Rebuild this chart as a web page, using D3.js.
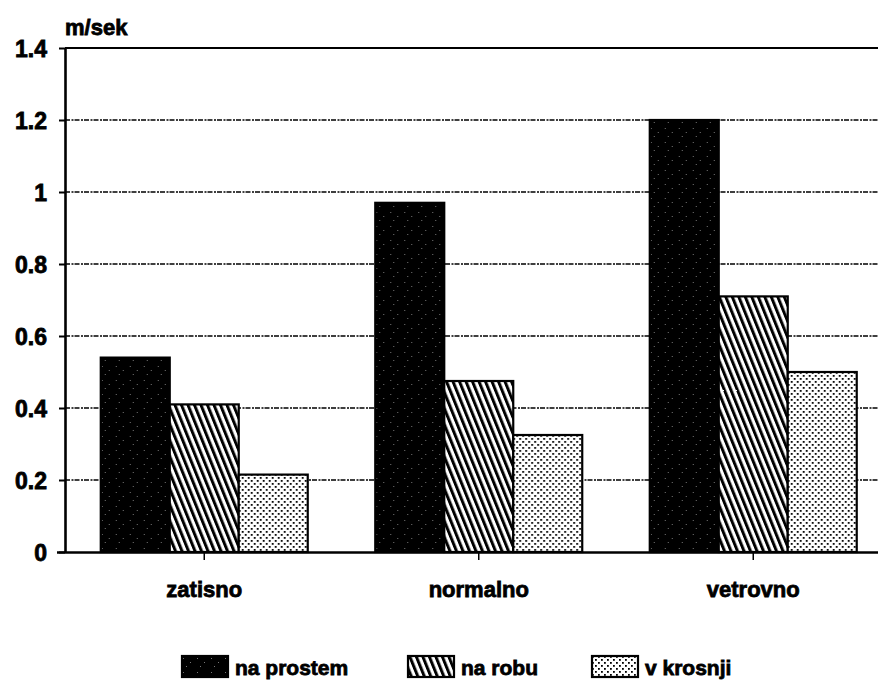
<!DOCTYPE html>
<html>
<head>
<meta charset="utf-8">
<script src="https://cdn.jsdelivr.net/npm/d3@7"></script>
<style>
  body { margin: 0; background: #fff; }
  svg { display: block; }
  text { font-family: "Liberation Sans", Arial, sans-serif; font-weight: bold; fill: #000; stroke: #000; stroke-width: 0.8px; }
</style>
</head>
<body>
<svg id="chart" width="881" height="691"></svg>
<script>
// ---- data ----
const categories = ["zatisno", "normalno", "vetrovno"];
const seriesNames = ["na prostem", "na robu", "v krosnji"];
const naProstem = [0.54, 0.97, 1.2];
const naRobu = [0.41, 0.475, 0.71];
const vKrosnji = [0.215, 0.325, 0.5];
const yTicks = [0, 0.2, 0.4, 0.6, 0.8, 1, 1.2, 1.4];
const yTickLabels = ["0", "0.2", "0.4", "0.6", "0.8", "1", "1.2", "1.4"];
const unitLabel = "m/sek";

const seriesValues = [naProstem, naRobu, vKrosnji];
const patternIds = ["pDark", "pHatch", "pDots"];

const svg = d3.select("#chart");
const defs = svg.append("defs");

// dark stipple pattern
const pd = defs.append("pattern").attr("id", "pDark").attr("patternUnits", "userSpaceOnUse")
  .attr("width", 14).attr("height", 14);
pd.append("rect").attr("width", 14).attr("height", 14).attr("fill", "#000");
[[1,2],[8,6],[4,10]].forEach(([x,y]) =>
  pd.append("rect").attr("x", x).attr("y", y).attr("width", 1).attr("height", 1).attr("fill", "#777"));

// hatch pattern (steep backslash lines)
const ph = defs.append("pattern").attr("id", "pHatch").attr("patternUnits", "userSpaceOnUse")
  .attr("width", 6.5).attr("height", 16).attr("patternTransform", "skewX(22)");
ph.append("rect").attr("width", 6.5).attr("height", 16).attr("fill", "#fff");
ph.append("rect").attr("x", 0).attr("width", 3.2).attr("height", 16).attr("fill", "#000");

// dots pattern
const pt = defs.append("pattern").attr("id", "pDots").attr("patternUnits", "userSpaceOnUse")
  .attr("width", 6).attr("height", 6);
pt.append("rect").attr("width", 6).attr("height", 6).attr("fill", "#fff");
pt.append("rect").attr("x", 0).attr("y", 0).attr("width", 1.8).attr("height", 1.8).attr("fill", "#000");
pt.append("rect").attr("x", 3).attr("y", 3).attr("width", 1.8).attr("height", 1.8).attr("fill", "#000");

// ---- scales ----
const axisX = 65, plotRight = 878, plotTop = 48, plotBottom = 552;
const x0 = d3.scaleBand().domain(categories).range([67, 890.5]).paddingInner(0.246).paddingOuter(0.123);
const x1 = d3.scaleBand().domain(seriesNames).range([0, x0.bandwidth()]).padding(0);
const y = d3.scaleLinear().domain([0, 1.4]).range([plotBottom, plotTop]);

// gridlines
svg.append("g").selectAll("line").data(yTicks.filter(t => t > 0 && t < 1.4)).join("line")
  .attr("x1", axisX).attr("x2", plotRight)
  .attr("y1", d => y(d)).attr("y2", d => y(d))
  .attr("stroke", "#000").attr("stroke-width", 1.3).attr("stroke-dasharray", "5,1.5,2,1");

// top frame line
svg.append("line").attr("x1", axisX).attr("x2", plotRight).attr("y1", y(1.4)).attr("y2", y(1.4))
  .attr("stroke", "#000").attr("stroke-width", 2);

// bars
const groups = svg.append("g").selectAll("g").data(categories).join("g")
  .attr("transform", d => `translate(${x0(d)},0)`);
groups.selectAll("rect").data((c, ci) => seriesNames.map((s, si) => ({ s, si, v: seriesValues[si][ci] })))
  .join("rect")
  .attr("x", d => x1(d.s))
  .attr("width", x1.bandwidth())
  .attr("y", d => y(d.v))
  .attr("height", d => y(0) - y(d.v))
  .attr("fill", d => `url(#${patternIds[d.si]})`)
  .attr("stroke", "#000").attr("stroke-width", 2.2);

// y axis
const yAxis = d3.axisLeft(y).tickValues(yTicks).tickFormat((d, i) => yTickLabels[i])
  .tickSizeInner(6).tickSizeOuter(0).tickPadding(12);
const yg = svg.append("g").attr("transform", `translate(${axisX},0)`).call(yAxis);
yg.select(".domain").attr("stroke", "#000").attr("stroke-width", 2.6);
yg.selectAll(".tick line").attr("stroke", "#000").attr("stroke-width", 2);
yg.selectAll(".tick text").style("font-size", "23px").attr("dy", "0.36em");

// x axis
const xAxis = d3.axisBottom(x0).tickSizeInner(8).tickSizeOuter(0).tickPadding(21);
const xg = svg.append("g").attr("transform", `translate(0,${plotBottom})`).call(xAxis);
xg.select(".domain").attr("d", `M${axisX - 8},0.5H${plotRight}`).attr("stroke", "#000").attr("stroke-width", 2.4);
xg.selectAll(".tick line").attr("stroke", "#000").attr("stroke-width", 1.5);
xg.selectAll(".tick text").style("font-size", "22px");

// unit label
svg.append("text").attr("x", axisX).attr("y", 35).style("font-size", "22px").text(unitLabel);

// legend
const legendX = [182, 408, 592];
const lg = svg.append("g").selectAll("g").data(seriesNames).join("g")
  .attr("transform", (d, i) => `translate(${legendX[i]},656)`);
lg.append("rect").attr("width", 46).attr("height", 21)
  .attr("fill", (d, i) => `url(#${patternIds[i]})`).attr("stroke", "#000").attr("stroke-width", 2.2);
lg.append("text").attr("x", 53).attr("y", 19).style("font-size", "21px").text(d => d);
</script>
</body>
</html>
